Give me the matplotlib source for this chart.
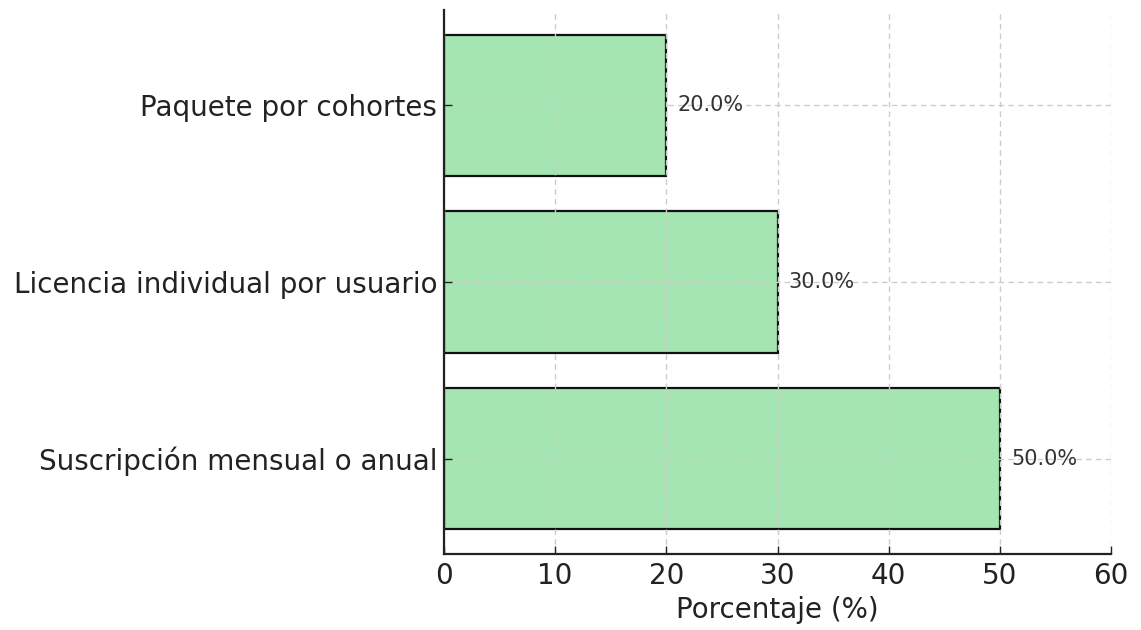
import matplotlib
matplotlib.use("Agg")
import matplotlib.pyplot as plt

# Pricing model shares
categories = ["Suscripción mensual o anual", "Licencia individual por usuario", "Paquete por cohortes"]
values = [50.0, 30.0, 20.0]
xticks = [0, 10, 20, 30, 40, 50, 60]

plt.rcParams["font.family"] = ["DejaVu Sans"]

fig = plt.figure(figsize=(11.41, 6.30), dpi=100)
ax = fig.add_axes([444 / 1141, 1 - 554 / 630, (1111 - 444) / 1141, (554 - 10) / 630])

bars = ax.barh(categories, values, height=0.8, color="#a4e5b2",
               edgecolor="#111111", linewidth=1.6, zorder=1)

for bar, v in zip(bars, values):
    ax.text(v + 1, bar.get_y() + bar.get_height() / 2, f"{v:.1f}%",
            va="center", ha="left", fontsize=15, color="#333333", zorder=3)

ax.set_xlim(0, 60)
ax.set_xticks(xticks)
ax.set_xlabel("Porcentaje (%)", fontsize=20, color="#222222", labelpad=4)

ax.set_axisbelow(False)
ax.grid(True, linestyle=(0, (4, 3)), color="#cccccc", linewidth=1, zorder=2)

for side in ("top", "right"):
    ax.spines[side].set_visible(False)
for side in ("left", "bottom"):
    ax.spines[side].set_color("#222222")
    ax.spines[side].set_linewidth(1.6)
    ax.spines[side].set_zorder(4)

ax.tick_params(axis="both", direction="in", length=6, width=1, colors="#222222",
               labelsize=20, labelcolor="#222222")
ax.tick_params(axis="y", pad=5)
ax.tick_params(axis="x", pad=6)

fig.savefig("out.png", dpi=100, facecolor="white")
